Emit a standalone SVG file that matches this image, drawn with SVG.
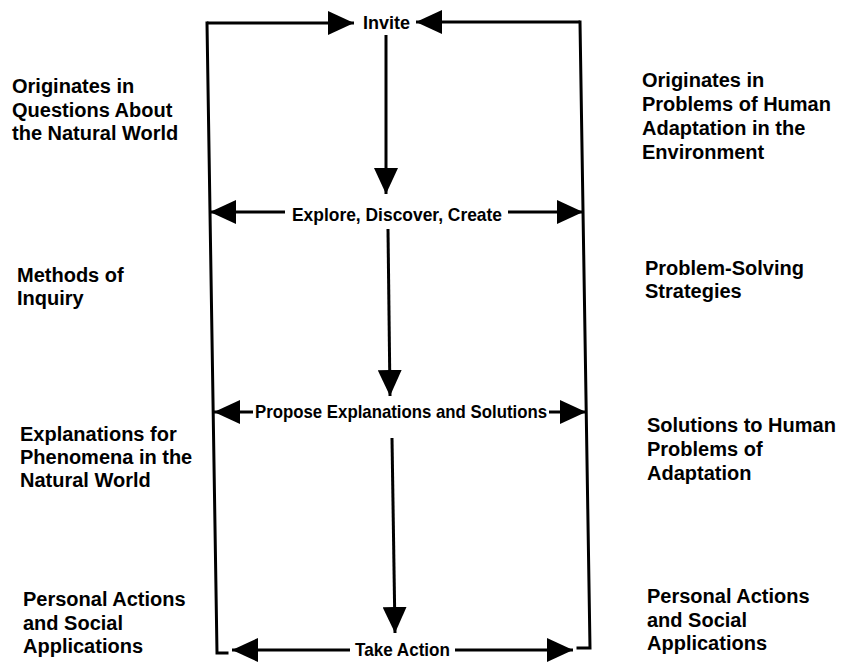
<svg xmlns="http://www.w3.org/2000/svg" width="850" height="663" viewBox="0 0 850 663">
<style>
  .side { font-family: "Liberation Sans", Arial, sans-serif; font-weight: bold; font-size: 20px; fill: #000; }
  .lbl { font-family: "Liberation Sans", Arial, sans-serif; font-weight: bold; font-size: 19px; fill: #000; }
  .ln { stroke: #000; stroke-width: 3; fill: none; stroke-linecap: square; }
  .arr { stroke: #000; stroke-width: 3; fill: none; marker-end: url(#ah); }
</style>
<defs>
  <marker id="ah" markerUnits="userSpaceOnUse" markerWidth="26" markerHeight="24" viewBox="0 0 26 24" refX="26" refY="12" orient="auto">
    <path d="M0,0 L26,12 L0,24 Z" fill="#000"/>
  </marker>
</defs>
<rect width="850" height="663" fill="#fff"/>

<g id="connectors">
  <polyline class="ln" points="227,653 217,653 207,23"/>
  <polyline class="ln" points="578,648 590,648 580,22"/>
  <line class="arr" x1="207" y1="23" x2="354" y2="23"/>
  <line class="arr" x1="580" y1="22" x2="416" y2="22"/>
  <line class="arr" x1="386" y1="35" x2="386" y2="194"/>
  <line class="arr" x1="388" y1="229" x2="390" y2="396"/>
  <line class="arr" x1="392" y1="438" x2="395" y2="633"/>
  <line class="arr" x1="285" y1="212" x2="210" y2="212"/>
  <line class="arr" x1="508" y1="212" x2="583" y2="212"/>
  <line class="arr" x1="253" y1="412" x2="214" y2="412"/>
  <line class="arr" x1="549" y1="412" x2="586" y2="412"/>
  <line class="arr" x1="350" y1="650" x2="232" y2="650"/>
  <line class="arr" x1="455" y1="650" x2="573" y2="650"/>
</g>

<g id="invite"><text class="lbl" x="363" y="29" textLength="47" lengthAdjust="spacingAndGlyphs">Invite</text></g>
<g id="explore"><text class="lbl" x="292" y="221" textLength="210" lengthAdjust="spacingAndGlyphs">Explore, Discover, Create</text></g>
<g id="propose"><text class="lbl" x="255" y="418" textLength="292" lengthAdjust="spacingAndGlyphs">Propose Explanations and Solutions</text></g>
<g id="take-action"><text class="lbl" x="355" y="656" textLength="95" lengthAdjust="spacingAndGlyphs">Take Action</text></g>

<g id="left-origin"><text class="side">
  <tspan x="12" y="93">Originates in</tspan>
  <tspan x="12" y="117">Questions About</tspan>
  <tspan x="12" y="140">the Natural World</tspan>
</text></g>
<g id="left-methods"><text class="side">
  <tspan x="17" y="282">Methods of</tspan>
  <tspan x="17" y="305">Inquiry</tspan>
</text></g>
<g id="left-explanations"><text class="side">
  <tspan x="20" y="441">Explanations for</tspan>
  <tspan x="20" y="464">Phenomena in the</tspan>
  <tspan x="20" y="487">Natural World</tspan>
</text></g>
<g id="left-actions"><text class="side">
  <tspan x="23" y="606">Personal Actions</tspan>
  <tspan x="23" y="630">and Social</tspan>
  <tspan x="23" y="653">Applications</tspan>
</text></g>

<g id="right-origin"><text class="side">
  <tspan x="642" y="87">Originates in</tspan>
  <tspan x="642" y="111">Problems of Human</tspan>
  <tspan x="642" y="135">Adaptation in the</tspan>
  <tspan x="642" y="159">Environment</tspan>
</text></g>
<g id="right-strategies"><text class="side">
  <tspan x="645" y="275">Problem-Solving</tspan>
  <tspan x="645" y="298">Strategies</tspan>
</text></g>
<g id="right-solutions"><text class="side">
  <tspan x="647" y="432">Solutions to Human</tspan>
  <tspan x="647" y="456">Problems of</tspan>
  <tspan x="647" y="480">Adaptation</tspan>
</text></g>
<g id="right-actions"><text class="side">
  <tspan x="647" y="603">Personal Actions</tspan>
  <tspan x="647" y="627">and Social</tspan>
  <tspan x="647" y="650">Applications</tspan>
</text></g>
</svg>
